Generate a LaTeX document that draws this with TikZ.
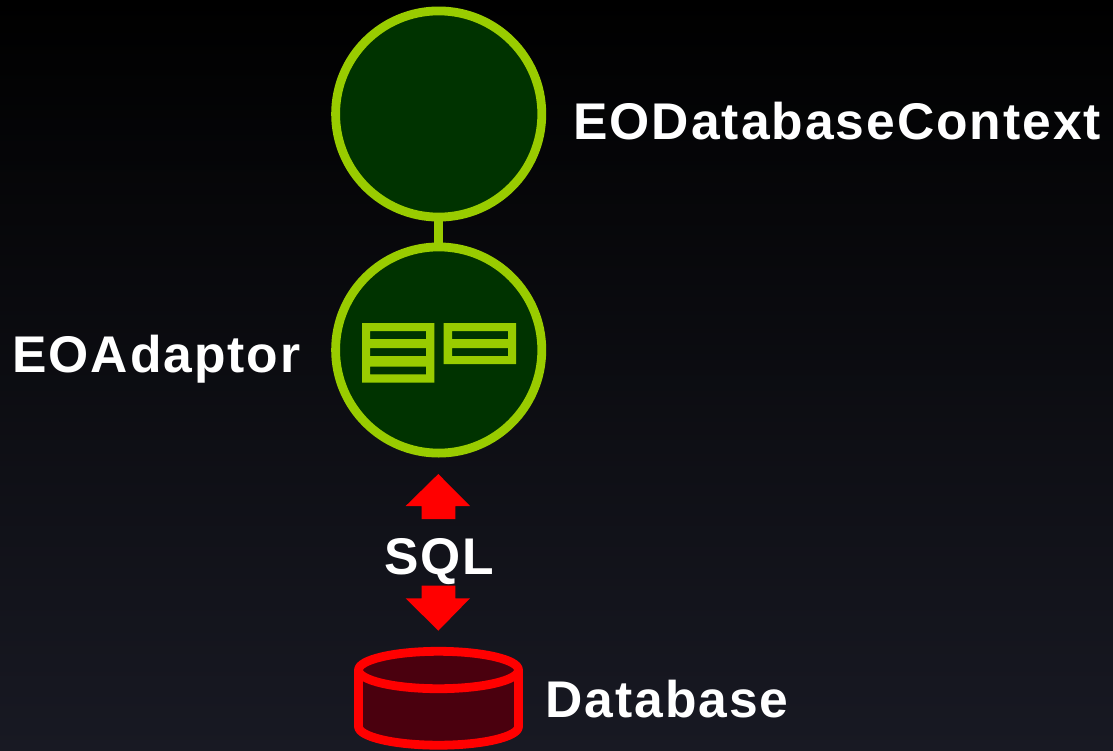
\documentclass[tikz,border=0pt]{standalone}
\usepackage{fontspec}
\setmainfont[LetterSpace=3.8]{Liberation Sans}
\definecolor{lime}{HTML}{99CC00}
\definecolor{deepgreen}{HTML}{003300}
\definecolor{dbfill}{HTML}{4A000E}
\definecolor{bgbottom}{RGB}{24,25,35}
\tikzset{
  ball/.style={circle,draw=lime,fill=deepgreen,line width=8.8pt,minimum size=206.2pt,inner sep=0pt,outer sep=0pt},
  link/.style={draw=lime,line width=8.8pt},
  tablepart/.style={fill=lime,even odd rule},
  redarrow/.style={fill=red},
  dbshape/.style={draw=red,line width=8.8pt,fill=dbfill,line join=round},
  lbl/.style={text=white,font=\bfseries\fontsize{51.6pt}{60pt}\selectfont,inner sep=0pt,outer sep=0pt}
}
\begin{document}
\begin{tikzpicture}[x=1pt,y=-1pt]
\useasboundingbox (0,0) rectangle (1113,750);
\shade[top color=black,bottom color=bgbottom] (0,0) rectangle (1113,750);
\node[ball] (ctx) at (438.7,114) {};
\node[ball] (adp) at (438.7,350) {};
\draw[link] (ctx.south) -- (adp.north);
% table icons
\fill[tablepart] (362,323) rectangle (434.3,382.7)
  (370,331) rectangle (426,339)
  (370,348) rectangle (426,356)
  (370,366.7) rectangle (426,374.3);
\fill[tablepart] (443.7,323) rectangle (516,364)
  (452,331) rectangle (508,339)
  (452,348) rectangle (508,356);
% arrows
\fill[redarrow] (438.3,474) -- (470,506) -- (455.3,506) -- (455.3,519) -- (421.7,519) -- (421.7,506) -- (405.7,506) -- cycle;
\fill[redarrow] (438.3,630.7) -- (470,598.3) -- (455.3,598.3) -- (455.3,585.7) -- (421.7,585.7) -- (421.7,598.3) -- (405.7,598.3) -- cycle;
% database
\draw[dbshape] (358.5,670) -- (358.5,726.5) arc[start angle=180,end angle=360,x radius=80,y radius=-18.7] -- (518.5,670);
\draw[dbshape] (438.5,670) ellipse[x radius=80,y radius=18.7];
% labels
\node[lbl,anchor=base west] (lctx) at (573.5,139) {EODatabaseContext};
\node[lbl,anchor=base west] (ladp) at (12.5,372.5) {EOAdaptor};
\node[lbl,anchor=base] (lsql) at (439,574) {SQL};
\node[lbl,anchor=base west] (ldb) at (545.5,717) {Database};
\end{tikzpicture}
\end{document}
